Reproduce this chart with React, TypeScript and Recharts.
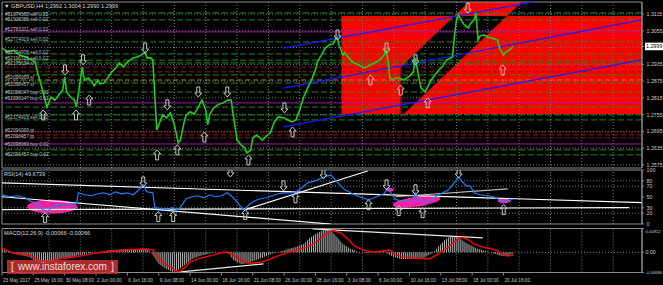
import React from "react";
import { ComposedChart, Line, Area, XAxis, YAxis, ReferenceLine, ReferenceArea, Scatter } from "recharts";

const FONT = "'Liberation Sans', Arial, sans-serif";
const W = 663;
const X_MAX = 326.7;
const P_MIN = 1.2564;
const P_MAX = 1.3158;
const M_MIN = -0.00686;
const M_MAX = 0.00812;
const CURRENT_PRICE = 1.2999;

// ---------- price (H4 closes) ----------
const priceBars = [0,3,6,9,12,15,17,18,20,22,23,25,27,29,31,32,33,35,37,38,40,41,42,44,46,47,49,50,52,54,56,58,60,62,64,67,69,71,73,74,76,77,78,79,81,82,84,86,88,90,91,93,94,96,98,100,102,104,105,106,108,110,113,115,117,118,120,122,124,125,127,128,130,133,135,137,139,141,144,146,148,150,152,154,156,158,160,161,163,165,167,169,170,171,172,174,175,177,179,181,183,185,187,189,191,193,195,196,197,198,200,201,203,205,208,210,211,213,214,216,217,219,221,223,225,227,230,231,232,233,235,236,238,239,241,242,243,244,246,248,250,253,254,256,257,259,261];
const priceValues = [1.2993,1.2979,1.2986,1.2968,1.2961,1.2951,1.2943,1.2908,1.2861,1.2807,1.2782,1.2818,1.2807,1.2825,1.2843,1.2890,1.2836,1.2818,1.2807,1.2782,1.2879,1.2925,1.2879,1.2886,1.2872,1.2858,1.2879,1.2865,1.2868,1.2886,1.2908,1.2922,1.2940,1.2925,1.2943,1.2958,1.2961,1.2968,1.2979,1.2958,1.2958,1.2951,1.2825,1.2700,1.2736,1.2754,1.2743,1.2761,1.2718,1.2654,1.2664,1.2729,1.2754,1.2765,1.2757,1.2779,1.2807,1.2772,1.2718,1.2754,1.2779,1.2790,1.2797,1.2807,1.2807,1.2754,1.2664,1.2647,1.2636,1.2618,1.2629,1.2672,1.2682,1.2664,1.2679,1.2690,1.2729,1.2747,1.2743,1.2736,1.2729,1.2736,1.2772,1.2818,1.2850,1.2879,1.2915,1.2943,1.2968,1.2993,1.3004,1.3008,1.3022,1.3033,1.3004,1.2968,1.2976,1.2958,1.2943,1.2936,1.2929,1.2922,1.2929,1.2936,1.2943,1.2951,1.2968,1.2986,1.2951,1.2886,1.2879,1.2886,1.2886,1.2879,1.2893,1.2908,1.2958,1.2879,1.2850,1.2836,1.2850,1.2879,1.2897,1.2915,1.2929,1.2951,1.2961,1.3040,1.3094,1.3111,1.3086,1.3076,1.3065,1.3079,1.3094,1.3119,1.3022,1.3036,1.3040,1.3033,1.3029,1.3022,1.2993,1.2968,1.2979,1.2986,1.2999];

// horizontal order lines
const greenLevels = [1.3119,1.3094,1.3015,1.2972,1.2950,1.2940,1.2897,1.2868,1.2836,1.2782,1.2754,1.2736,1.2629,1.2611];
const redLevels = [1.2925,1.2908,1.2693,1.2682,1.2672];
const purpleLevels = [1.3051,1.2797,1.2650];
const orangeLevels = [1.2879];

const orderLabelPrices = [1.3115,1.3097,1.3061,1.3026,1.2979,1.2958,1.2940,1.2890,1.2865,1.2836,1.2815,1.2747,1.2700,1.2678,1.2650,1.2614];
const orderLabelTexts = ["#51974560 sell 0.02","#51908385 sell 0.02","#52783201 sell 0.02","#52774919 sell 0.02","#52174978 sell 0.02","#52196125 sell 0.02","#52175634 sl","#52096069 sl","#52098457 sl","#52098047 buy 0.02","#52096147 buy 0.02","#52174916 sell 0.02","#52096069 tp","#52098457 tp","#52098069 buy 0.02","#52096457 buy 0.02"];

// red zone
const redBoxBars = [173.3, X_MAX];
const redBoxRange = [1.2757, 1.3108];
const redChannelBars = [203.5, 238.3, 265.3];
const redChannelLow = [1.2747, 1.2978, 1.3158];
const redChannelHigh = [1.2925, 1.3158, 1.3158];
const overlapBars = [203.5, 205.1, 230.9, 257.8];
const overlapLow = [1.2757, 1.2757, 1.2929, 1.3108];
const overlapHigh = [1.2925, 1.2936, 1.3108, 1.3108];

// blue channel
const channelStartBars = [143.7, 143.7, 143.7];
const channelEndBars = [271.0, X_MAX, X_MAX];
const channelStartPrices = [1.2993, 1.2850, 1.2711];
const channelEndPrices = [1.3158, 1.3094, 1.2951];

// arrows in price pane
const downArrowBars = [32.2,41.4,73.1,84.4,100.2,115,144.2,171.3,196.3,211.1,237.7];
const downArrowPrices = [1.2915,1.2951,1.2993,1.2790,1.2836,1.2836,1.2779,1.3040,1.2993,1.2951,1.3136];
const upArrowBars = [21,37.8,44.5,79.2,89.5,103.3,125.8,148.3];
const upArrowPrices = [1.2754,1.2754,1.2807,1.2611,1.2629,1.2675,1.2593,1.2693];
const pinkUpArrowBars = [188.1,203.5,217.3,255.6];
const pinkUpArrowPrices = [1.2879,1.2843,1.2797,1.2915];

const priceTicks = [1.3115,1.3055,1.2999,1.2935,1.2875,1.2815,1.2755,1.2695,1.2635,1.2575];
const priceGrid = [1.3115,1.3055,1.2995,1.2935,1.2875,1.2815,1.2755,1.2695,1.2635,1.2575];
const gridBars = [24,40,56,72,88,104,120,136,152,168,184,200,216,232,248,264,280,296,312];

// ---------- RSI ----------
const rsiBars = [0,4,8,12,14,17,20,23,26,29,32,35,38,39,42,46,49,52,55,58,61,64,67,71,72,74,77,78,81,84,87,90,92,94,97,100,103,106,109,112,115,117,119,121,123,124,126,129,132,135,138,141,144,147,150,153,156,160,163,166,168,170,172,175,178,181,184,187,189,192,195,197,199,201,204,208,210,211,213,216,219,222,225,228,230,232,233,235,237,239,241,244,248,251,254,256,258,261];
const rsiValues = [54.1,50.5,52.3,48.6,43.1,39.4,28.4,22.9,32.1,35.8,33.9,37.6,37.6,57.8,54.1,52.3,56.0,57.8,54.1,59.6,56.0,57.8,54.1,67.0,72.5,59.6,57.8,30.3,28.4,26.6,30.3,26.6,35.8,46.8,50.5,52.3,48.6,54.1,50.5,52.3,57.8,52.3,45.0,35.8,28.4,26.6,35.8,43.1,46.8,48.6,52.3,56.0,57.8,57.8,59.6,67.0,76.1,79.8,85.3,89.0,90.8,81.7,74.3,63.3,57.8,52.3,48.6,45.0,46.8,52.3,56.0,67.0,54.1,45.0,43.1,41.3,45.0,57.8,43.1,39.4,43.1,52.3,57.8,63.3,72.5,81.7,87.2,78.0,70.6,70.6,57.8,54.1,52.3,50.5,45.0,41.3,41.3,46.8];
const rsiTicks = [100,80,70,50,30,20,0];
const rsiGrid = [80,70,30,20];
const rsiTrendStartBars = [0,0,0,124.2,200.9];
const rsiTrendEndBars = [320,X_MAX,167.7,186.6,258.2];
const rsiTrendStartValues = [26.6,76.1,50.5,26.6,50.5];
const rsiTrendEndValues = [30.3,39.6,0,98.2,65.1];
const rsiTrendColors = ["#ffffff","#ffffff","#ffffff","#ffffff","#bdbdbd"];
const rsiUpArrowBars = [22,79.8,87.4,124.2,149.8,187.1,202.5,214.7,256.1];
const rsiUpArrowValues = [11.9,13.8,13.8,17.4,48.6,35.8,24.8,21.1,26.6];
const rsiDownArrowBars = [72.1,116.6,143.7,164.1,196.3,211.1,233.1];
const rsiDownArrowValues = [78,96.3,70.6,92.7,72.5,63.3,94.5];
const highlightBarFrom = [12.8,195.8,199.4,253];
const highlightBarTo = [38.4,199.9,223.9,259.7];
const highlightLow = [19.3,59.6,32.1,38.5];
const highlightHigh = [45,67,50.5,46.8];

// ---------- MACD ----------
const macdHistBars = [0,4,9,14,17,20,25,30,35,40,45,50,55,60,65,71,75,77,80,84,87,90,94,97,101,105,109,113,116,118,122,123,127,131,135,139,143,146,150,154,157,161,165,168,171,174,178,182,186,191,195,197,200,204,207,212,216,220,223,226,229,232,234,237,240,243,247,252,255,257,260,261];
const macdHistValues = [0.00116,-0.0002,-0.00088,-0.00156,-0.00292,-0.0036,-0.00292,-0.0019,-0.00156,-0.00088,-0.0002,0.00014,0.00082,0.00099,0.00116,0.00116,0.00082,-0.00088,-0.00394,-0.00564,-0.00666,-0.00598,-0.00394,-0.00224,-0.00122,-0.00054,0.00014,0.00014,-0.00054,-0.00258,-0.00394,-0.00394,-0.00326,-0.00224,-0.00122,-0.0002,0.00048,0.00116,0.00184,0.00286,0.00490,0.00660,0.00796,0.00728,0.00524,0.00286,0.00116,0.00014,-0.0002,0.00048,0.00082,-0.00054,-0.00156,-0.00224,-0.00224,-0.00224,-0.00156,-0.0002,0.00218,0.00422,0.00558,0.00558,0.00456,0.00320,0.00218,0.00116,0.00048,-0.00054,-0.00122,-0.00122,-0.00054,-0.00054];
const macdSignalBars = [0,4,9,14,17,20,23,27,32,37,43,48,53,58,63,68,73,77,80,83,87,90,93,96,100,104,108,111,115,118,122,125,129,133,137,141,145,149,152,156,159,163,166,169,173,177,180,184,189,193,195,198,201,205,209,214,218,221,225,228,231,233,235,238,241,245,250,253,256,258,261];
const macdSignalValues = [0.0015,0.00014,-0.00054,-0.00088,-0.0019,-0.00326,-0.0036,-0.00258,-0.0019,-0.00156,-0.00088,-0.0002,0.00014,0.00048,0.00082,0.00099,0.00116,0.00082,-0.0019,-0.00394,-0.0053,-0.00683,-0.0053,-0.00326,-0.00224,-0.00156,-0.00088,-0.0002,0.00014,-0.00088,-0.00258,-0.0036,-0.0036,-0.00326,-0.00224,-0.00122,-0.0002,0.00048,0.00116,0.00184,0.00286,0.00490,0.0066,0.00745,0.0066,0.00422,0.00218,0.00082,0.00014,0.00014,0.00048,0.00082,-0.00088,-0.00156,-0.0019,-0.0019,-0.00224,-0.00122,0.00048,0.00184,0.00354,0.0049,0.00507,0.00422,0.00286,0.00184,0.00116,0.00048,-0.00088,-0.00122,-0.00088];
const macdTicks = [0.00812, 0, -0.00686];
const macdTickLabels = ["0.00812", "0.00", "-0.00686"];
const macdTrendStartBars = [88.5, 158.5];
const macdTrendEndBars = [133.5, 245.4];
const macdTrendStartValues = [-0.00683, 0.00796];
const macdTrendEndValues = [-0.00394, 0.0049];

const timeTickBars = [0,16,32,48,64,80,96,112,128,144,160,176,192,208,224,240,256];
const timeLabels = ["23 May 2017","25 May 16:00","30 May 08:00","2 Jun 00:00","6 Jun 16:00","9 Jun 08:00","14 Jun 00:00","16 Jun 16:00","21 Jun 08:00","26 Jun 00:00","28 Jun 16:00","3 Jul 08:00","6 Jul 00:00","10 Jul 16:00","13 Jul 08:00","18 Jul 00:00","20 Jul 16:00"];

// ---------- derived tables ----------
const pts = (bars: number[], vals: number[]) => bars.map((b, i) => ({ bar: b, v: vals[i] }));
const priceData = pts(priceBars, priceValues);
const redBoxData = redBoxBars.map((b) => ({ bar: b, v: redBoxRange }));
const redChannelData = redChannelBars.map((b, i) => ({ bar: b, v: [redChannelLow[i], redChannelHigh[i]] }));
const overlapData = overlapBars.map((b, i) => ({ bar: b, v: [overlapLow[i], overlapHigh[i]] }));
const orderLabelData = orderLabelPrices.map((p, i) => ({ bar: 1.5, v: p, t: orderLabelTexts[i] }));
const rsiData = pts(rsiBars, rsiValues);
const macdHistData = pts(macdHistBars, macdHistValues);
const macdSignalData = pts(macdSignalBars, macdSignalValues);

const GRID = "#6f7a86";
const AXIS = "#8c8c8c";
const TXT = "#c8c8c8";
const AXIS_FS = 5.3;

function arrowShape(dir: "up" | "down", stroke: string) {
  return (p: any) => {
    const { cx, cy } = p;
    if (cx == null || cy == null) return <g />;
    const s = dir === "up" ? 1 : -1;
    const poly = [[0, -5], [3.5, -1], [1.5, -1], [1.5, 5], [-1.5, 5], [-1.5, -1], [-3.5, -1]]
      .map(([a, b]) => `${cx + a},${cy + b * s}`)
      .join(" ");
    return <polygon points={poly} fill="none" stroke={stroke} strokeWidth={1} />;
  };
}

const labelShape = (p: any) => (
  <text x={p.cx} y={p.cy + 2} fontSize={4.8} fill="#bdbdbd" fontFamily={FONT}>
    {p.payload.t}
  </text>
);

const PriceTick = (props: any) => {
  const { x, y, payload } = props;
  const val = payload.value as number;
  const label = val.toFixed(4);
  if (Math.abs(val - CURRENT_PRICE) < 1e-6) {
    return (
      <g>
        <rect x={x - 1} y={y - 3.8} width={19} height={7.6} fill="#ffffff" />
        <text x={x} y={y + 2} fontSize={AXIS_FS} fill="#000" fontFamily={FONT}>{label}</text>
      </g>
    );
  }
  return <text x={x + 0.5} y={y + 2} fontSize={AXIS_FS} fill={TXT} fontFamily={FONT}>{label}</text>;
};

const RsiTick = (props: any) => {
  const { x, y, payload } = props;
  return <text x={x + 0.5} y={y + 2} fontSize={AXIS_FS} fill={TXT} fontFamily={FONT}>{payload.value}</text>;
};

const MacdTick = (props: any) => {
  const { x, y, payload, index } = props;
  const i = macdTicks.indexOf(payload.value);
  const dy = i === 0 ? 2.5 : i === 2 ? -0.5 : 0;
  return (
    <text x={x - 0.5} y={y + 2 + dy} fontSize={i === 1 ? AXIS_FS : 4.2} fill={TXT} fontFamily={FONT}>
      {macdTickLabels[i >= 0 ? i : index]}
    </text>
  );
};

const TimeTick = (props: any) => {
  const { x, y, payload } = props;
  const i = timeTickBars.indexOf(payload.value);
  return <text x={x + 1} y={y + 4.5} fontSize={4.7} fill={TXT} fontFamily={FONT}>{timeLabels[i]}</text>;
};

const hiddenX = <XAxis type="number" dataKey="bar" domain={[0, X_MAX]} hide allowDataOverflow />;

export default function App() {
  const vgrid = () =>
    gridBars.map((b) => (
      <ReferenceLine key={"vg" + b} x={b} stroke={GRID} strokeDasharray="1 2" strokeWidth={1} />
    ));
  return (
    <div style={{ position: "fixed", left: 0, top: 0, width: W, height: 285, background: "#000", overflow: "hidden", fontFamily: FONT }}>
      {/* main price pane */}
      <div style={{ position: "absolute", left: 0, top: 0 }}>
        <ComposedChart width={W} height={170} margin={{ top: 2, right: 0, bottom: 2, left: 2 }}>
          {hiddenX}
          <YAxis
            type="number"
            orientation="right"
            domain={[P_MIN, P_MAX]}
            allowDataOverflow
            ticks={priceTicks}
            interval={0}
            width={21}
            tickSize={2}
            tick={<PriceTick />}
            axisLine={{ stroke: AXIS }}
            tickLine={{ stroke: AXIS }}
          />
          <Area data={redBoxData} dataKey="v" type="linear" stroke="none" fill="#ff0000" fillOpacity={1} isAnimationActive={false} />
          <Area data={redChannelData} dataKey="v" type="linear" stroke="none" fill="#ff0000" fillOpacity={1} isAnimationActive={false} />
          <Area data={overlapData} dataKey="v" type="linear" stroke="none" fill="#000000" fillOpacity={1} isAnimationActive={false} />
          {priceGrid.map((p) => (
            <ReferenceLine key={"hg" + p} y={p} stroke={GRID} strokeDasharray="1 2" />
          ))}
          {vgrid()}
          {greenLevels.map((p) => (
            <ReferenceLine key={"gl" + p} y={p} stroke="#1f8a1f" strokeDasharray="6 3" />
          ))}
          {redLevels.map((p) => (
            <ReferenceLine key={"rl" + p} y={p} stroke="#a01010" strokeDasharray="5 3" />
          ))}
          {orangeLevels.map((p) => (
            <ReferenceLine key={"ol" + p} y={p} stroke="#c07818" strokeDasharray="5 3" />
          ))}
          {purpleLevels.map((p) => (
            <ReferenceLine key={"pl" + p} y={p} stroke="#a01aa8" />
          ))}
          {channelStartBars.map((b, i) => (
            <Line
              key={"ch" + i}
              data={[{ bar: b, v: channelStartPrices[i] }, { bar: channelEndBars[i], v: channelEndPrices[i] }]}
              dataKey="v"
              type="linear"
              stroke="#1a1aff"
              strokeWidth={1.2}
              dot={false}
              isAnimationActive={false}
            />
          ))}
          <Scatter data={orderLabelData} dataKey="v" shape={labelShape} isAnimationActive={false} />
          <Line data={priceData} dataKey="v" type="linear" stroke="#1fcc1f" strokeWidth={1.6} dot={false} isAnimationActive={false} />
          <Scatter data={pts(downArrowBars, downArrowPrices)} dataKey="v" shape={arrowShape("down", "#c9c9c9")} isAnimationActive={false} />
          <Scatter data={pts(upArrowBars, upArrowPrices)} dataKey="v" shape={arrowShape("up", "#c9c9c9")} isAnimationActive={false} />
          <Scatter data={pts(pinkUpArrowBars, pinkUpArrowPrices)} dataKey="v" shape={arrowShape("up", "#ffb3b3")} isAnimationActive={false} />
          <ReferenceArea x1={0} x2={X_MAX} y1={P_MIN} y2={P_MAX} fill="none" stroke={AXIS} strokeWidth={1} />
        </ComposedChart>
      </div>

      {/* RSI pane */}
      <div style={{ position: "absolute", left: 0, top: 168 }}>
        <ComposedChart width={W} height={58} margin={{ top: 2, right: 0, bottom: 2, left: 2 }}>
          {hiddenX}
          <YAxis
            type="number"
            orientation="right"
            domain={[0, 100]}
            allowDataOverflow
            ticks={rsiTicks}
            interval={0}
            width={21}
            tickSize={2}
            tick={<RsiTick />}
            axisLine={{ stroke: AXIS }}
            tickLine={{ stroke: AXIS }}
          />
          {rsiGrid.map((v) => (
            <ReferenceLine key={"rg" + v} y={v} stroke={GRID} strokeDasharray="1 2" />
          ))}
          {vgrid()}
          {highlightBarFrom.map((b, i) => (
            <ReferenceArea
              key={"hl" + i}
              x1={b}
              x2={highlightBarTo[i]}
              y1={highlightLow[i]}
              y2={highlightHigh[i]}
              shape={(p: any) => (
                <ellipse
                  cx={p.x + p.width / 2}
                  cy={p.y + p.height / 2}
                  rx={Math.abs(p.width) / 2}
                  ry={Math.abs(p.height) / 2}
                  fill="#ff1fa6"
                  transform={i === 2 ? `rotate(-8 ${p.x + p.width / 2} ${p.y + p.height / 2})` : undefined}
                />
              )}
            />
          ))}
          {rsiTrendStartBars.map((b, i) => (
            <Line
              key={"rt" + i}
              data={[{ bar: b, v: rsiTrendStartValues[i] }, { bar: rsiTrendEndBars[i], v: rsiTrendEndValues[i] }]}
              dataKey="v"
              type="linear"
              stroke={rsiTrendColors[i]}
              strokeWidth={1.2}
              dot={false}
              isAnimationActive={false}
            />
          ))}
          <Line data={rsiData} dataKey="v" type="linear" stroke="#1e7fff" strokeWidth={1.2} dot={false} isAnimationActive={false} />
          <Scatter data={pts(rsiUpArrowBars, rsiUpArrowValues)} dataKey="v" shape={arrowShape("up", "#c9c9c9")} isAnimationActive={false} />
          <Scatter data={pts(rsiDownArrowBars, rsiDownArrowValues)} dataKey="v" shape={arrowShape("down", "#c9c9c9")} isAnimationActive={false} />
          <ReferenceArea x1={0} x2={X_MAX} y1={0} y2={100} fill="none" stroke={AXIS} strokeWidth={1} />
        </ComposedChart>
      </div>

      {/* MACD pane */}
      <div style={{ position: "absolute", left: 0, top: 227 }}>
        <ComposedChart width={W} height={58} margin={{ top: 1.5, right: 0, bottom: 0, left: 2 }}>
          <defs>
            <pattern id="macdStripes" width="1.956" height="4" patternUnits="userSpaceOnUse">
              <rect x="0" y="0" width="0.9" height="4" fill="#c4c4c4" />
            </pattern>
          </defs>
          <XAxis
            type="number"
            dataKey="bar"
            domain={[0, X_MAX]}
            allowDataOverflow
            ticks={timeTickBars}
            interval={0}
            height={12.5}
            tickSize={3}
            tick={<TimeTick />}
            axisLine={{ stroke: AXIS }}
            tickLine={{ stroke: AXIS }}
          />
          <YAxis
            type="number"
            orientation="right"
            domain={[M_MIN, M_MAX]}
            allowDataOverflow
            ticks={macdTicks}
            interval={0}
            width={21}
            tickSize={2}
            tick={<MacdTick />}
            axisLine={{ stroke: AXIS }}
            tickLine={{ stroke: AXIS }}
          />
          <ReferenceLine y={0} stroke={GRID} strokeDasharray="1 2" />
          {vgrid()}
          <Area data={macdHistData} dataKey="v" type="linear" stroke="none" fill="url(#macdStripes)" fillOpacity={1} baseValue={0} isAnimationActive={false} />
          {macdTrendStartBars.map((b, i) => (
            <Line
              key={"mt" + i}
              data={[{ bar: b, v: macdTrendStartValues[i] }, { bar: macdTrendEndBars[i], v: macdTrendEndValues[i] }]}
              dataKey="v"
              type="linear"
              stroke="#e8e8e8"
              strokeWidth={1.2}
              dot={false}
              isAnimationActive={false}
            />
          ))}
          <Line data={macdSignalData} dataKey="v" type="linear" stroke="#ff0000" strokeWidth={1.4} dot={false} isAnimationActive={false} />
          <ReferenceArea x1={0} x2={X_MAX} y1={M_MIN} y2={M_MAX} fill="none" stroke={AXIS} strokeWidth={1} />
        </ComposedChart>
      </div>

      {/* pane titles */}
      <div style={{ position: "absolute", left: 4, top: 2, fontSize: 5.6, color: "#d8d8d8", whiteSpace: "nowrap", lineHeight: "8px" }}>
        ▼ GBPUSD,H4 1.2992 1.3004 1.2990 1.2999
      </div>
      <div style={{ position: "absolute", left: 4, top: 170, fontSize: 5.6, color: "#d8d8d8", whiteSpace: "nowrap", lineHeight: "8px" }}>
        RSI(14) 49.6739
      </div>
      <div style={{ position: "absolute", left: 4, top: 229, fontSize: 5.6, color: "#d8d8d8", whiteSpace: "nowrap", lineHeight: "8px" }}>
        MACD(12,26,9) -0.00066 -0.00066
      </div>

      {/* watermark */}
      <div
        style={{
          position: "absolute",
          left: 7,
          top: 260,
          width: 111,
          height: 14,
          background: "rgba(200,50,50,0.85)",
          color: "#f3dede",
          fontSize: 10,
          lineHeight: "14px",
          display: "flex",
          justifyContent: "space-between",
          padding: "0 4px",
          boxSizing: "border-box",
          whiteSpace: "nowrap",
        }}
      >
        <span>[</span>
        <span>www.instaforex.com</span>
        <span>]</span>
      </div>
    </div>
  );
}
